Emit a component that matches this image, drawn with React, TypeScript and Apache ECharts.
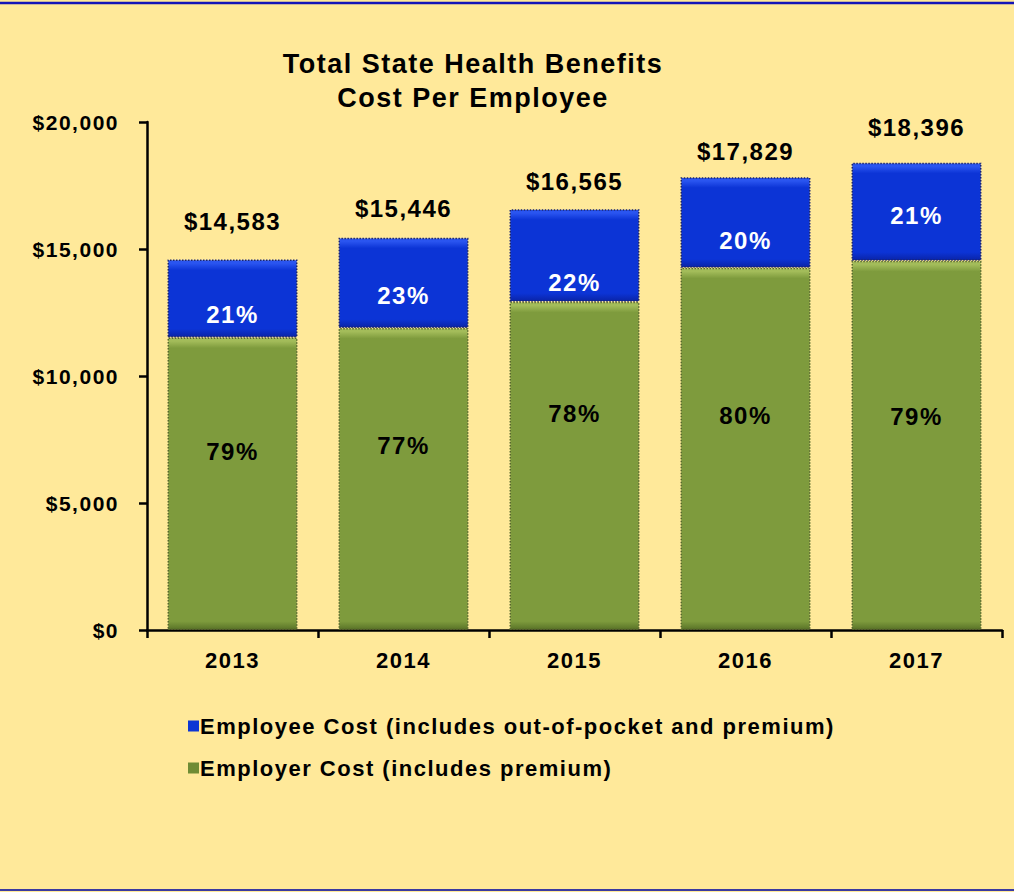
import React, { useEffect, useRef } from "react";
import * as echarts from "echarts";

const years = ["2013", "2014", "2015", "2016", "2017"];
const totals = [14583, 15446, 16565, 17829, 18396];
const employerCost = [11520, 11893, 12921, 14263, 14533];
const employeeCost = [3063, 3553, 3644, 3566, 3863];
const employerPct = ["79%", "77%", "78%", "80%", "79%"];
const employeePct = ["21%", "23%", "22%", "20%", "21%"];
const yTicks = { min: 0, max: 20000, interval: 5000 };

// label nudges (styling only)
const employerLabelDy = [-32, -33, -52, -33, -29];
const employeeLabelDy = [16, 13, 27, 18, 4];
const totalLabelDy = [-16, -7, -6, -4, -13];

const FONT = "'Liberation Sans', Arial, Helvetica, sans-serif";
const PLOT_H = 508; // grid height in px
const BEVEL = 10; // px

function bevelGrad(value: number, light: string, mid: string, dark: string) {
  const h = (value / yTicks.max) * PLOT_H;
  const b = Math.min(0.3, BEVEL / h);
  return new echarts.graphic.LinearGradient(0, 0, 0, 1, [
    { offset: 0, color: light },
    { offset: b * 0.3, color: light },
    { offset: b, color: mid },
    { offset: 1 - b * 0.8, color: mid },
    { offset: 1, color: dark },
  ]);
}

export default function App() {
  const ref = useRef<HTMLDivElement>(null);
  useEffect(() => {
    if (!ref.current) return;
    const chart = echarts.init(ref.current, null, { renderer: "svg" });
    const employerName = "Employer Cost (includes premium)";
    const employeeName = "Employee Cost (includes out-of-pocket and premium)";
    chart.setOption({
      animation: false,
      backgroundColor: "#FFE99A",
      textStyle: { fontFamily: FONT },
      title: {
        text: "Total State Health Benefits\nCost Per Employee",
        left: 468,
        top: 42,
        textAlign: "center",
        textStyle: {
          fontFamily: FONT,
          fontSize: 27,
          fontWeight: "bold",
          color: "#000",
          lineHeight: 34,
        },
      },
      grid: { left: 147, right: 12, top: 122, bottom: 262, containLabel: false },
      legend: {
        orient: "vertical",
        left: 183,
        top: 710,
        icon: "rect",
        itemWidth: 11,
        itemHeight: 11,
        itemGap: 20,
        data: [
          { name: employeeName, itemStyle: { color: "#0D36D4" } },
          { name: employerName, itemStyle: { color: "#6F8C35" } },
        ],
        textStyle: { fontFamily: FONT, fontSize: 22, fontWeight: "bold", color: "#000", padding: [0, 0, 0, -4] },
      },
      xAxis: {
        type: "category",
        data: years,
        axisLine: { lineStyle: { color: "#000", width: 2.5 } },
        axisTick: { show: true, length: 8, lineStyle: { color: "#000", width: 2.5 } },
        axisLabel: { margin: 19, fontFamily: FONT, fontSize: 22, fontWeight: "bold", color: "#000" },
      },
      yAxis: {
        type: "value",
        min: yTicks.min,
        max: yTicks.max,
        interval: yTicks.interval,
        splitLine: { show: false },
        axisLine: { show: true, lineStyle: { color: "#000", width: 2.5 } },
        axisTick: { show: true, length: 8, lineStyle: { color: "#000", width: 2.5 } },
        axisLabel: {
          margin: 28,
          fontFamily: FONT,
          fontSize: 21,
          fontWeight: "bold",
          color: "#000",
          formatter: (v: number) => "$" + v.toLocaleString("en-US"),
        },
      },
      series: [
        {
          name: employerName,
          type: "bar",
          stack: "cost",
          barCategoryGap: "24%",
          data: employerCost.map((v, i) => ({
            value: v,
            itemStyle: {
              color: bevelGrad(v, "#A3BC5A", "#7E9B3D", "#5A7428"),
              borderColor: "#56682c",
              borderWidth: 1.5,
              borderType: "dotted",
            },
            label: { offset: [0, employerLabelDy[i]] },
          })),
          label: {
            show: true,
            position: "inside",
            color: "#000",
            fontFamily: FONT,
            fontSize: 24,
            fontWeight: "bold",
            formatter: (p: any) => employerPct[p.dataIndex],
          },
        },
        {
          name: employeeName,
          type: "bar",
          stack: "cost",
          barCategoryGap: "24%",
          data: employeeCost.map((v, i) => ({
            value: v,
            itemStyle: {
              color: bevelGrad(v, "#2A55F0", "#0C34D6", "#0A24A8"),
              borderColor: "#1a2570",
              borderWidth: 1.5,
              borderType: "dotted",
            },
            label: { offset: [0, employeeLabelDy[i]] },
          })),
          label: {
            show: true,
            position: "inside",
            color: "#fff",
            fontFamily: FONT,
            fontSize: 24,
            fontWeight: "bold",
            formatter: (p: any) => employeePct[p.dataIndex],
          },
        },
        {
          name: "totals",
          type: "bar",
          stack: "cost",
          barCategoryGap: "24%",
          silent: true,
          itemStyle: { color: "transparent" },
          data: totals.map((_, i) => ({
            value: 0,
            label: { offset: [0, totalLabelDy[i]] },
          })),
          label: {
            show: true,
            position: "top",
            distance: 10,
            color: "#000",
            fontFamily: FONT,
            fontSize: 24,
            fontWeight: "bold",
            formatter: (p: any) => "$" + totals[p.dataIndex].toLocaleString("en-US"),
          },
        },
      ],
      graphic: [
        { type: "line", shape: { x1: 0, y1: 3, x2: 1014, y2: 3 }, style: { stroke: "#1414B8", lineWidth: 2.5 } },
        { type: "line", shape: { x1: 0, y1: 890, x2: 1014, y2: 890 }, style: { stroke: "#3a3aa0", lineWidth: 2 } },
      ],
    });
    return () => chart.dispose();
  }, []);
  return (
    <div
      ref={ref}
      style={{ position: "fixed", left: 0, top: 0, width: 1014, height: 892, letterSpacing: "1.5px" }}
    />
  );
}
